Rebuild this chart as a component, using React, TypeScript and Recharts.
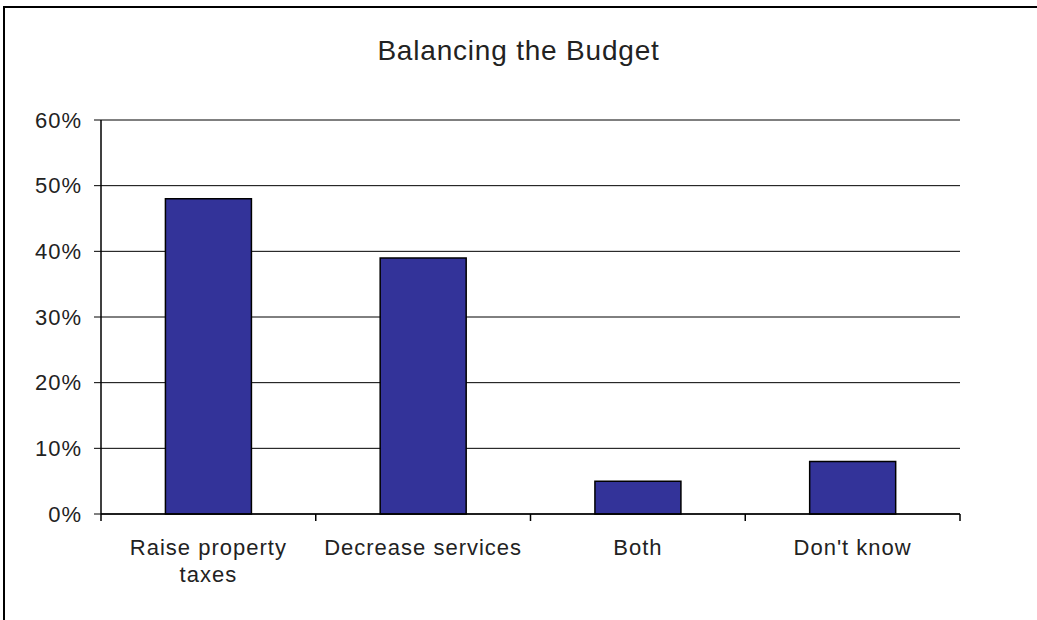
import { BarChart, Bar, XAxis, YAxis, CartesianGrid } from 'recharts';

const CATEGORIES = ['Raise property\ntaxes', 'Decrease services', 'Both', "Don't know"];
const SHARES = [48, 39, 5, 8];
const Y_TICKS = [0, 10, 20, 30, 40, 50, 60];

const FONT = '"Liberation Sans", Arial, sans-serif';
const BAR = '#333399';
const W = 1037;
const H = 620;
const MARGIN = { top: 120, right: 77, bottom: 0, left: 0 };
const Y_AXIS_W = 101;
const BAND = (W - MARGIN.right - Y_AXIS_W) / CATEGORIES.length;

const rows = CATEGORIES.map((name, i) => ({ name, share: SHARES[i] }));

// category label plus the tick marks that sit between categories
function CategoryTick({
  x,
  y,
  index,
  payload,
}: {
  x?: number;
  y?: number;
  index?: number;
  payload?: { value: string };
}) {
  const cx = x ?? 0;
  const y0 = y ?? 0;
  const lines = String(payload?.value ?? '').split('\n');
  const last = index === CATEGORIES.length - 1;
  return (
    <g>
      <line x1={cx - BAND / 2} x2={cx - BAND / 2} y1={y0} y2={y0 + 7} stroke="#000" strokeWidth={1.5} />
      {last && <line x1={cx + BAND / 2} x2={cx + BAND / 2} y1={y0} y2={y0 + 7} stroke="#000" strokeWidth={1.5} />}
      {lines.map((line, i) => (
        <text
          key={i}
          x={cx}
          y={y0 + 41 + i * 27}
          textAnchor="middle"
          fill="#222"
          style={{ fontFamily: FONT, fontSize: 22, letterSpacing: 1 }}
        >
          {line}
        </text>
      ))}
    </g>
  );
}

export default function App() {
  return (
    <div style={{ position: 'absolute', left: 0, top: 0, width: W, height: H, background: '#fff', overflow: 'hidden' }}>
      <div
        style={{
          position: 'absolute',
          left: 3,
          top: 6,
          width: 1100,
          height: 700,
          borderLeft: '2px solid #000',
          borderTop: '2px solid #000',
        }}
      />
      <div
        style={{
          position: 'absolute',
          left: 0,
          top: 37,
          width: W,
          textAlign: 'center',
          fontFamily: FONT,
          fontSize: 28,
          lineHeight: '28px',
          letterSpacing: 0.8,
          color: '#222',
        }}
      >
        Balancing the Budget
      </div>
      <div style={{ position: 'absolute', left: 0, top: 0 }}>
        <BarChart width={W} height={H} data={rows} margin={MARGIN} barCategoryGap="30%">
          <CartesianGrid horizontal vertical={false} stroke="#000" strokeWidth={1} />
          <XAxis
            dataKey="name"
            height={106}
            interval={0}
            tickLine={false}
            tickSize={0}
            tickMargin={0}
            axisLine={{ stroke: '#000', strokeWidth: 1.5 }}
            tick={<CategoryTick />}
          />
          <YAxis
            width={Y_AXIS_W}
            domain={[0, 60]}
            ticks={Y_TICKS}
            interval={0}
            tickFormatter={(v: number) => `${v}%`}
            tickSize={7}
            tickMargin={12}
            axisLine={{ stroke: '#000', strokeWidth: 1.5 }}
            tickLine={{ stroke: '#000', strokeWidth: 1 }}
            tick={{ fill: '#222', fontSize: 22, fontFamily: FONT, letterSpacing: 1 }}
          />
          <Bar dataKey="share" fill={BAR} stroke="#000" strokeWidth={1.5} isAnimationActive={false} />
        </BarChart>
      </div>
    </div>
  );
}
